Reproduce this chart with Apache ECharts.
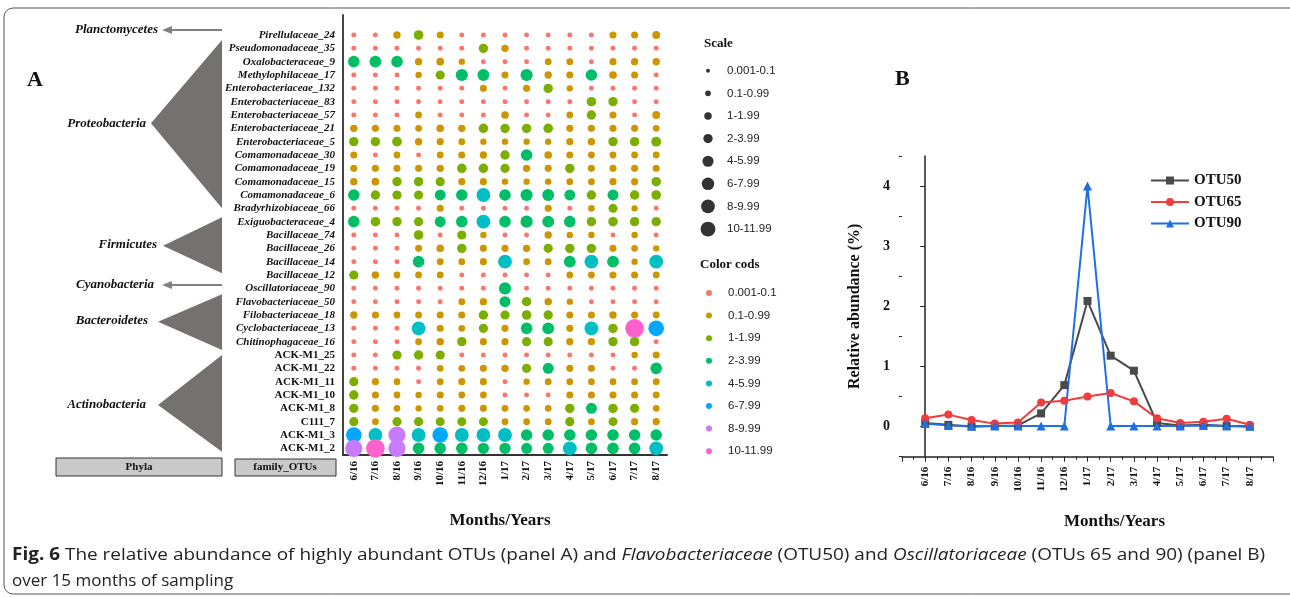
<!DOCTYPE html>
<html>
<head>
<meta charset="utf-8">
<script src="https://cdn.jsdelivr.net/npm/echarts@6/dist/echarts.min.js"></script>
<style>
  html, body { margin: 0; padding: 0; background: #fff; }
  #chart { width: 1290px; height: 597px; }
</style>
</head>
<body>
<div id="chart"></div>
<script>
// panel A
const months = ['6/16', '7/16', '8/16', '9/16', '10/16', '11/16', '12/16', '1/17', '2/17', '3/17', '4/17', '5/17', '6/17', '7/17', '8/17']
const rows = [
  'Pirellulaceae_24', 'Pseudomonadaceae_35', 'Oxalobacteraceae_9', 'Methylophilaceae_17',
  'Enterobacteriaceae_132', 'Enterobacteriaceae_83', 'Enterobacteriaceae_57', 'Enterobacteriaceae_21',
  'Enterobacteriaceae_5', 'Comamonadaceae_30', 'Comamonadaceae_19', 'Comamonadaceae_15',
  'Comamonadaceae_6', 'Bradyrhizobiaceae_66', 'Exiguobacteraceae_4', 'Bacillaceae_74',
  'Bacillaceae_26', 'Bacillaceae_14', 'Bacillaceae_12', 'Oscillatoriaceae_90',
  'Flavobacteriaceae_50', 'Filobacteriaceae_18', 'Cyclobacteriaceae_13', 'Chitinophagaceae_16',
  'ACK-M1_25', 'ACK-M1_22', 'ACK-M1_11', 'ACK-M1_10', 'ACK-M1_8', 'C111_7', 'ACK-M1_3', 'ACK-M1_2'
]
// relative abundance (%) per OTU row, one value per month
const abundance = [
  [0.05, 0.05, 0.6, 1.7, 0.5, 0.05, 0.05, 0.05, 0.05, 0.05, 0.05, 0.05, 0.5, 0.5, 0.8],
  [0.05, 0.05, 0.05, 0.05, 0.05, 0.05, 1.5, 0.6, 0.05, 0.05, 0.05, 0.05, 0.05, 0.05, 0.05],
  [3, 3.2, 3, 0.6, 0.7, 0.3, 0.05, 0.05, 0.05, 0.4, 0.4, 0.05, 0.5, 0.6, 0.6],
  [0.05, 0.05, 0.05, 0.3, 1.4, 3.5, 3.2, 0.5, 3.5, 0.6, 0.5, 3, 0.7, 0.5, 0.05],
  [0.05, 0.05, 0.05, 0.05, 0.05, 0.05, 0.5, 0.05, 0.5, 1.5, 0.3, 0.05, 0.05, 0.05, 0.05],
  [0.05, 0.05, 0.05, 0.05, 0.05, 0.05, 0.05, 0.05, 0.05, 0.05, 0.05, 1.6, 1.5, 0.05, 0.05],
  [0.05, 0.05, 0.05, 0.4, 0.05, 0.05, 0.05, 0.7, 0.05, 0.05, 0.4, 1.5, 0.5, 0.05, 0.8],
  [0.6, 0.5, 0.5, 0.4, 0.7, 0.6, 1.6, 1.5, 1.5, 1.6, 0.5, 0.5, 0.5, 0.5, 0.4],
  [1.5, 1.5, 1.7, 0.6, 0.5, 0.4, 0.3, 0.3, 0.3, 0.3, 0.5, 0.6, 1.5, 1.5, 1.8],
  [0.5, 0.05, 0.4, 0.05, 0.4, 0.5, 0.6, 1.5, 3, 0.7, 0.5, 0.4, 0.4, 0.4, 0.4],
  [0.5, 0.5, 0.5, 0.5, 0.6, 1.6, 1.6, 1.4, 0.6, 0.5, 1.5, 0.5, 0.5, 0.5, 0.5],
  [0.6, 0.7, 1.5, 1.5, 1.4, 0.5, 0.5, 0.3, 0.3, 0.3, 0.4, 0.4, 0.5, 0.5, 1.6],
  [3, 1.5, 1.4, 1.4, 2.5, 3, 5, 3, 3.5, 3.2, 2.5, 1.5, 2.5, 1.5, 1.6],
  [0.05, 0.05, 0.05, 0.05, 0.5, 0.05, 0.05, 0.05, 0.05, 0.5, 0.05, 0.4, 1.3, 0.3, 0.05],
  [3, 1.6, 1.5, 1.4, 2.5, 3, 5, 3, 3.5, 3.2, 3, 1.5, 1.6, 1.5, 1.5],
  [0.05, 0.05, 0.05, 1.6, 0.05, 1.4, 0.3, 0.05, 0.05, 0.6, 0.3, 0.3, 0.05, 0.3, 0.05],
  [0.05, 0.05, 0.05, 0.5, 0.7, 1.5, 0.5, 0.5, 0.6, 1.4, 1.5, 1.5, 0.5, 0.4, 0.3],
  [0.05, 0.05, 0.05, 3, 0.4, 0.4, 0.5, 5, 0.4, 0.4, 3.2, 5, 3.2, 0.3, 5],
  [1.4, 0.6, 0.4, 0.4, 0.4, 0.05, 0.05, 0.05, 0.05, 0.05, 0.4, 0.4, 0.5, 0.5, 0.4],
  [0.05, 0.05, 0.05, 0.05, 0.05, 0.05, 0.05, 3.5, 0.05, 0.05, 0.05, 0.05, 0.05, 0.05, 0.05],
  [0.05, 0.05, 0.05, 0.05, 0.05, 0.4, 0.6, 2.5, 1.5, 0.6, 0.3, 0.05, 0.05, 0.05, 0.05],
  [0.6, 0.5, 0.4, 0.4, 0.5, 0.5, 1.5, 1.4, 1.6, 1.5, 0.5, 0.5, 0.6, 0.5, 0.4],
  [0.05, 0.05, 0.05, 5, 0.5, 0.4, 1.4, 0.5, 3, 3.2, 0.5, 5, 1.5, 11, 7],
  [0.05, 0.05, 0.05, 0.4, 0.6, 1.5, 0.5, 0.5, 1.4, 1.4, 0.5, 0.5, 1.5, 1.5, 0.05],
  [0.05, 0.05, 1.4, 1.5, 1.4, 0.05, 0.05, 0.05, 0.05, 0.05, 0.05, 0.05, 0.05, 0.3, 0.5],
  [0.05, 0.05, 0.05, 0.05, 0.4, 0.4, 0.5, 0.6, 1.4, 2.5, 0.5, 0.5, 0.05, 0.05, 3],
  [1.4, 0.5, 0.4, 0.05, 0.4, 0.5, 0.5, 0.05, 0.3, 0.4, 0.4, 0.4, 0.4, 0.4, 0.4],
  [1.5, 0.5, 0.4, 0.3, 0.5, 0.4, 0.4, 0.05, 0.05, 0.05, 0.5, 0.5, 0.5, 0.5, 0.4],
  [1.4, 0.5, 0.4, 0.3, 0.4, 0.5, 0.5, 0.4, 0.4, 0.4, 1.5, 2.5, 1.5, 1.4, 0.4],
  [1.4, 0.4, 1.4, 1.4, 1.3, 1.3, 1.3, 0.4, 0.4, 0.4, 1.4, 0.4, 1.3, 0.5, 0.5],
  [7, 5, 9, 5, 7, 5, 5, 5, 3, 3, 3, 3, 3, 3, 3],
  [9, 11, 9, 3, 3, 3, 2.8, 2.8, 2.6, 2.5, 5, 3, 3, 3, 5]
]
const binLabels = ['0.001-0.1', '0.1-0.99', '1-1.99', '2-3.99', '4-5.99', '6-7.99', '8-9.99', '10-11.99']
const binLow = [0, 0.1, 1, 2, 4, 6, 8, 10]
const binMid = [0.05, 0.5, 1.5, 3, 5, 7, 9, 11]
const binColors = ['#F8766D', '#CD9600', '#7CAE00', '#00BE67', '#00BFC4', '#00A9FF', '#C77CFF', '#FF61CC']

// panel B
const otu50 = [0.06, 0.03, 0.0, 0.01, 0.02, 0.22, 0.69, 2.09, 1.18, 0.93, 0.06, 0.02, 0.03, 0.01, 0.0]
const otu65 = [0.14, 0.2, 0.11, 0.05, 0.07, 0.4, 0.43, 0.5, 0.56, 0.42, 0.14, 0.06, 0.08, 0.13, 0.03]
const otu90 = [0.05, 0.02, 0.01, 0.01, 0.01, 0.01, 0.01, 4.0, 0.01, 0.01, 0.01, 0.01, 0.02, 0.01, 0.01]

const serif = 'Liberation Serif'
const sans = '"Open Sans"'
const dotSize = v => 4 + 4.4 * Math.sqrt(v)

const bubbles = []
rows.forEach((r, i) => {
  abundance[i].forEach((v, j) => bubbles.push([months[j], r, v]))
})

const isPlain = name => name.startsWith('ACK') || name.startsWith('C111')

const tri = (bx, y1, y2, ax, ay) => ({
  type: 'polygon', shape: { points: [[bx, y1], [bx, y2], [ax, ay]] }, style: { fill: '#767171' }
})
const arrow = (y) => [
  { type: 'line', shape: { x1: 222, y1: y, x2: 170, y2: y }, style: { stroke: '#808080', lineWidth: 2 } },
  { type: 'polygon', shape: { points: [[162, y], [172, y - 4], [172, y + 4]] }, style: { fill: '#808080' } }
]
const phylumText = (x, y, text) => ({
  type: 'text', x: x, y: y,
  style: { text: text, font: 'italic bold 13px ' + serif, fill: '#111', align: 'right', verticalAlign: 'middle' }
})

const mychart = echarts.init(document.getElementById('chart'))
const option = {
  animation: false,
  grid: [
    { left: 343, top: 15, width: 324, height: 440 },
    { left: 700, top: 59.4, width: 16, height: 181 },
    { left: 902, top: 156, width: 371, height: 300.7 }
  ],
  xAxis: [
    {
      type: 'category', gridIndex: 0, data: months, boundaryGap: true,
      axisLine: { lineStyle: { color: '#333', width: 2 } },
      axisTick: { show: false },
      axisLabel: { interval: 0, rotate: 90, margin: 6, fontFamily: serif, fontWeight: 'bold', fontSize: 11, color: '#111' },
      name: 'Months/Years', nameLocation: 'middle', nameGap: 57,
      nameTextStyle: { fontFamily: serif, fontWeight: 'bold', fontSize: 17, color: '#111', padding: [0, 10, 0, 0] }
    },
    { type: 'value', gridIndex: 1, min: -1, max: 1, show: false },
    {
      type: 'value', gridIndex: 2, min: -1, max: 15, interval: 1,
      axisLine: { onZero: false, lineStyle: { color: '#222', width: 1.5 } },
      axisTick: { length: 5, lineStyle: { color: '#222' } },
      minorTick: { show: true, splitNumber: 2, length: 3, lineStyle: { color: '#222' } },
      splitLine: { show: false },
      axisLabel: {
        rotate: 90, margin: 10, fontFamily: serif, fontWeight: 'bold', fontSize: 11, color: '#111',
        formatter: v => months[v] || ''
      },
      name: 'Months/Years', nameLocation: 'middle', nameGap: 56,
      nameTextStyle: { fontFamily: serif, fontWeight: 'bold', fontSize: 17, color: '#111', padding: [0, 0, 0, 54] }
    }
  ],
  yAxis: [
    {
      type: 'category', gridIndex: 0, data: [''].concat(rows), inverse: true, boundaryGap: true,
      axisLine: { lineStyle: { color: '#444', width: 2 } },
      axisTick: { alignWithLabel: true, length: 4, interval: (i, v) => v !== '', lineStyle: { color: '#444' } },
      axisLabel: {
        interval: 0, margin: 8,
        formatter: v => (isPlain(v) ? '{n|' + v + '}' : '{i|' + v + '}'),
        rich: {
          i: { fontFamily: serif, fontStyle: 'italic', fontWeight: 'bold', fontSize: 11, color: '#111' },
          n: { fontFamily: serif, fontWeight: 'bold', fontSize: 11, color: '#111' }
        }
      }
    },
    {
      type: 'category', gridIndex: 1, data: binLabels, inverse: true, position: 'right',
      axisLine: { show: false }, axisTick: { show: false },
      axisLabel: { margin: 11, fontFamily: 'Liberation Sans', fontSize: 11.5, color: '#222' }
    },
    {
      type: 'value', gridIndex: 2, min: -0.5, max: 4.5, position: 'left',
      axisLine: { show: true, lineStyle: { color: '#222', width: 1.5 } },
      axisTick: { show: true, length: 5, customValues: [0, 1, 2, 3, 4], lineStyle: { color: '#222' } },
      splitLine: { show: false },
      axisLabel: { customValues: [0, 1, 2, 3, 4], margin: 12, fontFamily: serif, fontWeight: 'bold', fontSize: 14, color: '#111' },
      name: 'Relative abundance (%)', nameLocation: 'middle', nameGap: 39, nameRotate: 90,
      nameTextStyle: { fontFamily: serif, fontWeight: 'bold', fontSize: 16, color: '#111' }
    },
    {
      type: 'value', gridIndex: 2, min: -0.5, max: 4.5, position: 'left', offset: 0,
      axisLine: { show: false }, splitLine: { show: false }, axisLabel: { show: false },
      axisTick: { show: true, length: 3, customValues: [-0.5, 0.5, 1.5, 2.5, 3.5, 4.5], lineStyle: { color: '#222' } }
    }
  ],
  visualMap: {
    type: 'piecewise', seriesIndex: 0, dimension: 2, orient: 'vertical', inverse: true, align: 'left',
    left: 691, top: 272, itemWidth: 6, itemHeight: 6, itemGap: 10.6, textGap: 16, itemSymbol: 'circle',
    selectedMode: false, hoverLink: false,
    textStyle: { fontFamily: 'Liberation Sans', fontSize: 11.5, color: '#222' },
    pieces: binLabels.map((l, k) => ({ gte: binLow[k], lt: k < 7 ? binLow[k + 1] : 12, label: l, color: binColors[k] }))
  },
  legend: {
    data: ['OTU50', 'OTU65', 'OTU90'], orient: 'vertical', left: 1145, top: 168,
    itemWidth: 38, itemHeight: 10, itemGap: 6.5,
    textStyle: { fontFamily: serif, fontWeight: 'bold', fontSize: 15, color: '#111' }
  },
  series: [
    {
      type: 'scatter', xAxisIndex: 0, yAxisIndex: 0, data: bubbles,
      symbolSize: d => dotSize(d[2]), itemStyle: { opacity: 1 }
    },
    {
      type: 'scatter', xAxisIndex: 1, yAxisIndex: 1,
      data: binLabels.map((l, k) => [0, l, binMid[k]]),
      symbolSize: d => 0.8 * dotSize(d[2]), itemStyle: { color: '#000' }
    },
    {
      name: 'OTU50', type: 'line', xAxisIndex: 2, yAxisIndex: 2,
      data: otu50.map((v, i) => [i, v]), symbol: 'rect', symbolSize: 8,
      lineStyle: { width: 2, color: '#4a4a4a' }, itemStyle: { color: '#4a4a4a' }
    },
    {
      name: 'OTU65', type: 'line', xAxisIndex: 2, yAxisIndex: 2,
      data: otu65.map((v, i) => [i, v]), symbol: 'circle', symbolSize: 8,
      lineStyle: { width: 2, color: '#f23b3b' }, itemStyle: { color: '#f23b3b' }
    },
    {
      name: 'OTU90', type: 'line', xAxisIndex: 2, yAxisIndex: 2,
      data: otu90.map((v, i) => [i, v]), symbol: 'triangle', symbolSize: 9,
      lineStyle: { width: 2, color: '#1f6fe6' }, itemStyle: { color: '#1f6fe6' }
    }
  ],
  graphic: [
    { type: 'rect', shape: { x: 4, y: 8, width: 1300, height: 586, r: 9 }, style: { fill: 'none', stroke: '#555', lineWidth: 1 }, z: -1 },
    { type: 'text', x: 27, y: 80, style: { text: 'A', font: 'bold 22px ' + serif, fill: '#111', verticalAlign: 'middle' } },
    { type: 'text', x: 895, y: 79, style: { text: 'B', font: 'bold 22px ' + serif, fill: '#111', verticalAlign: 'middle' } },
    { type: 'text', x: 704, y: 43.5, style: { text: 'Scale', font: 'bold 13px ' + serif, fill: '#111', verticalAlign: 'middle' } },
    { type: 'text', x: 700, y: 265, style: { text: 'Color cods', font: 'bold 13px ' + serif, fill: '#111', verticalAlign: 'middle' } },
    tri(222, 40, 208.3, 151, 123.3),
    tri(222, 217.3, 273.3, 163, 245.7),
    tri(222, 294.3, 350, 158, 321.7),
    tri(222, 355, 451.7, 158, 405),
    ...arrow(30),
    ...arrow(285),
    phylumText(158, 30, 'Planctomycetes'),
    phylumText(146, 124, 'Proteobacteria'),
    phylumText(157, 245, 'Firmicutes'),
    phylumText(154, 285, 'Cyanobacteria'),
    phylumText(148, 321, 'Bacteroidetes'),
    phylumText(146, 405, 'Actinobacteria'),
    { type: 'rect', shape: { x: 56, y: 458, width: 166, height: 18 }, style: { fill: '#c9c9c9', stroke: '#333', lineWidth: 1 } },
    { type: 'text', x: 139, y: 467, style: { text: 'Phyla', font: 'bold 11px ' + serif, fill: '#111', align: 'center', verticalAlign: 'middle' } },
    { type: 'rect', shape: { x: 235, y: 459, width: 101, height: 17 }, style: { fill: '#c9c9c9', stroke: '#333', lineWidth: 1 } },
    { type: 'text', x: 285, y: 467.5, style: { text: 'family_OTUs', font: 'bold 11px ' + serif, fill: '#111', align: 'center', verticalAlign: 'middle' } },
    {
      type: 'text', x: 12, y: 555, scaleX: 1.115,
      style: {
        text: '{b|Fig. 6} The relative abundance of highly abundant OTUs (panel A) and {i|Flavobacteriaceae} (OTU50) and {i|Oscillatoriaceae} (OTUs 65 and 90) (panel B)',
        font: '17px ' + sans, fill: '#222', verticalAlign: 'middle',
        rich: {
          b: { fontWeight: 'bold', fontSize: 17, fontFamily: sans, fill: '#222' },
          i: { fontStyle: 'italic', fontSize: 17, fontFamily: sans, fill: '#222' }
        }
      }
    },
    { type: 'text', x: 12, y: 581, style: { text: 'over 15 months of sampling', font: '17px ' + sans, fill: '#222', verticalAlign: 'middle' } }
  ]
}
mychart.setOption(option)
</script>
</body>
</html>
